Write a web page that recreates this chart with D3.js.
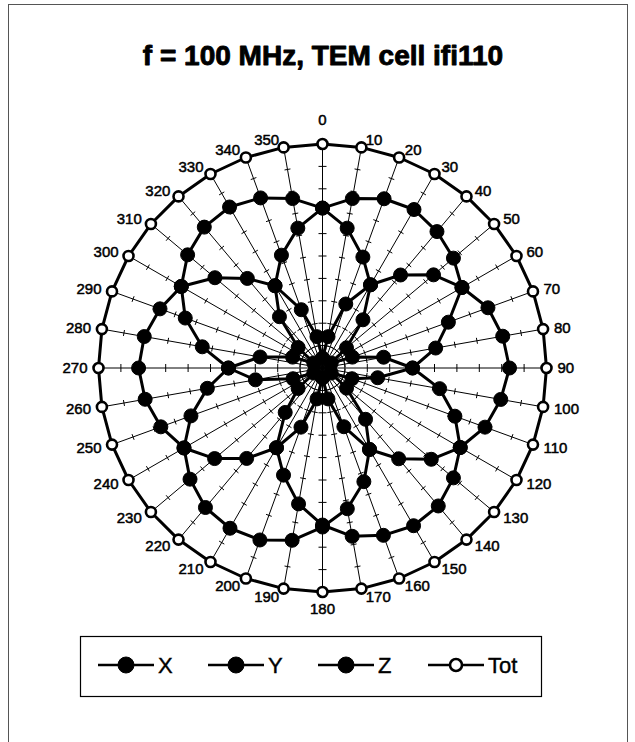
<!DOCTYPE html>
<html><head><meta charset="utf-8">
<script src="https://cdn.jsdelivr.net/npm/d3@7"></script>
<style>html,body{margin:0;padding:0;background:#fff;} svg{display:block;}</style>
</head><body>
<svg id="chart" width="635" height="742"></svg>
<script>
// ---- data ----
const title = "f = 100 MHz, TEM cell ifi110";
const angles = [0,10,20,30,40,50,60,70,80,90,100,110,120,130,140,150,160,170,180,190,200,210,220,230,240,250,260,270,280,290,300,310,320,330,340,350];
const angleLabels = ["0","10","20","30","40","50","60","70","80","90","100","110","120","130","140","150","160","170","180","190","200","210","220","230","240","250","260","270","280","290","300","310","320","330","340","350"];
const seriesNames = ["X","Y","Z","Tot"];
const X = [0.45,1.42,3.04,4.29,5.42,6.47,7.19,7.86,8.17,8.35,8.08,7.72,7.10,6.34,5.29,4.20,2.79,1.40,0.45,1.40,2.81,4.11,5.27,6.29,7.14,7.68,8.04,8.21,8.08,7.72,7.28,6.27,5.22,4.24,2.77,1.42];
const Y = [7.14,7.68,8.04,8.17,7.95,7.63,7.19,5.98,5.13,4.02,2.50,1.40,0.45,1.40,2.99,4.20,5.40,6.38,7.10,7.81,8.17,8.26,8.13,7.72,7.14,6.25,5.22,4.20,2.83,1.42,0.45,1.42,2.99,4.24,5.36,6.34];
const Z = [7.14,6.34,5.27,4.29,2.81,1.40,0.45,1.42,2.77,4.02,5.31,6.29,7.10,7.63,8.04,8.13,7.95,7.63,7.01,6.16,5.09,4.11,2.59,1.42,0.45,1.40,3.04,4.20,5.45,6.52,7.28,7.86,8.21,8.30,8.08,7.68];
const Tot = [10,10,10,10,10,10,10,10,10,10,10,10,10,10,10,10,10,10,10,10,10,10,10,10,10,10,10,10,10,10,10,10,10,10,10,10];
const radialDomain = [0, 10];

// ---- layout ----
const W = 635, H = 742, cx = 322.5, cy = 368, R = 224;
const FONT = "'Liberation Sans', Arial, sans-serif";
const svg = d3.select("#chart");
svg.append("rect").attr("width", W).attr("height", H).attr("fill", "#fff");
svg.append("rect").attr("x", 8.5).attr("y", 4.5).attr("width", 619).attr("height", 760)
  .attr("fill", "none").attr("stroke", "#555").attr("stroke-width", 1);

svg.append("text").attr("x", 323).attr("y", 65).attr("text-anchor", "middle")
  .attr("font-family", FONT).attr("font-weight", "bold").attr("font-size", 28)
  .attr("fill", "#000").attr("stroke", "#000").attr("stroke-width", 0.9)
  .attr("stroke-linejoin", "round").text(title);

const r = d3.scaleLinear().domain(radialDomain).range([0, R]);
const a = d3.scaleLinear().domain([0, 360]).range([0, 2 * Math.PI]);
const g = svg.append("g").attr("transform", `translate(${cx},${cy})`);

// spokes
g.selectAll("line.spoke").data(angles).join("line").attr("class", "spoke")
  .attr("x1", 0).attr("y1", 0)
  .attr("x2", d => r(radialDomain[1]) * Math.sin(a(d)))
  .attr("y2", d => -r(radialDomain[1]) * Math.cos(a(d)))
  .attr("stroke", "#000").attr("stroke-width", 1);

// tick marks on every spoke
const tickVals = r.ticks(10).filter(v => v > 0);
angles.forEach(d => {
  const t = a(d);
  const half = (d % 90 === 0) ? 4 : 3;
  g.selectAll(null).data(tickVals).join("line")
    .attr("x1", v => r(v) * Math.sin(t) - half * Math.cos(t))
    .attr("y1", v => -r(v) * Math.cos(t) - half * Math.sin(t))
    .attr("x2", v => r(v) * Math.sin(t) + half * Math.cos(t))
    .attr("y2", v => -r(v) * Math.cos(t) + half * Math.sin(t))
    .attr("stroke", "#000").attr("stroke-width", 1);
});

// angle labels
g.selectAll("text.lab").data(angles).join("text").attr("class", "lab")
  .attr("font-family", FONT).attr("font-size", 15).attr("fill", "#000")
  .attr("stroke", "#000").attr("stroke-width", 0.5)
  .each(function(d, i) {
    const t = a(d), s = Math.sin(t), c = Math.cos(t);
    const LR = 232;
    let x = LR * s, y = -LR * c, anchor;
    if (Math.abs(s) < 1e-6) {
      anchor = "middle"; x = 0;
      y = c > 0 ? -248 : 240.5;
    } else if (s > 0) { anchor = "start"; x += 3; }
    else { anchor = "end"; x -= 3; }
    d3.select(this).attr("x", x).attr("y", y).attr("dy", "0.36em")
      .attr("text-anchor", anchor).text(angleLabels[i]);
  });

// series
const lineGen = d3.lineRadial()
  .angle((d, i) => a(angles[i]))
  .radius(d => r(d))
  .curve(d3.curveLinearClosed);

const series = [
  {name: "X", values: X, fill: "#000", mr: 7},
  {name: "Y", values: Y, fill: "#000", mr: 7},
  {name: "Z", values: Z, fill: "#000", mr: 7},
  {name: "Tot", values: Tot, fill: "#fff", mr: 5}
];

series.forEach(sr => {
  g.append("path").attr("d", lineGen(sr.values))
    .attr("fill", "none").attr("stroke", "#000").attr("stroke-width", 3)
    .attr("stroke-linejoin", "round");
  g.selectAll(null).data(sr.values).join("circle")
    .attr("cx", (d, i) => r(d) * Math.sin(a(angles[i])))
    .attr("cy", (d, i) => -r(d) * Math.cos(a(angles[i])))
    .attr("r", sr.mr)
    .attr("fill", sr.fill).attr("stroke", "#000")
    .attr("stroke-width", sr.fill === "#fff" ? 2.6 : 1);
});

// legend
const lg = svg.append("g");
lg.append("rect").attr("x", 80.5).attr("y", 636.5).attr("width", 461).attr("height", 60)
  .attr("fill", "#fff").attr("stroke", "#000").attr("stroke-width", 1.2);
const legX = d3.scalePoint().domain(seriesNames).range([126, 456]);
series.forEach(sr => {
  const mx = legX(sr.name), my = 665;
  lg.append("line").attr("x1", mx - 28).attr("x2", mx + 28).attr("y1", my).attr("y2", my)
    .attr("stroke", "#000").attr("stroke-width", 2.5);
  lg.append("circle").attr("cx", mx).attr("cy", my).attr("r", sr.mr + 1)
    .attr("fill", sr.fill).attr("stroke", "#000").attr("stroke-width", sr.fill === "#fff" ? 2.6 : 1);
  lg.append("text").attr("x", mx + 32).attr("y", my).attr("dy", "0.36em")
    .attr("font-family", FONT).attr("font-size", 22).attr("fill", "#000")
    .attr("stroke", "#000").attr("stroke-width", 0.4).text(sr.name);
});
</script>
</body></html>
